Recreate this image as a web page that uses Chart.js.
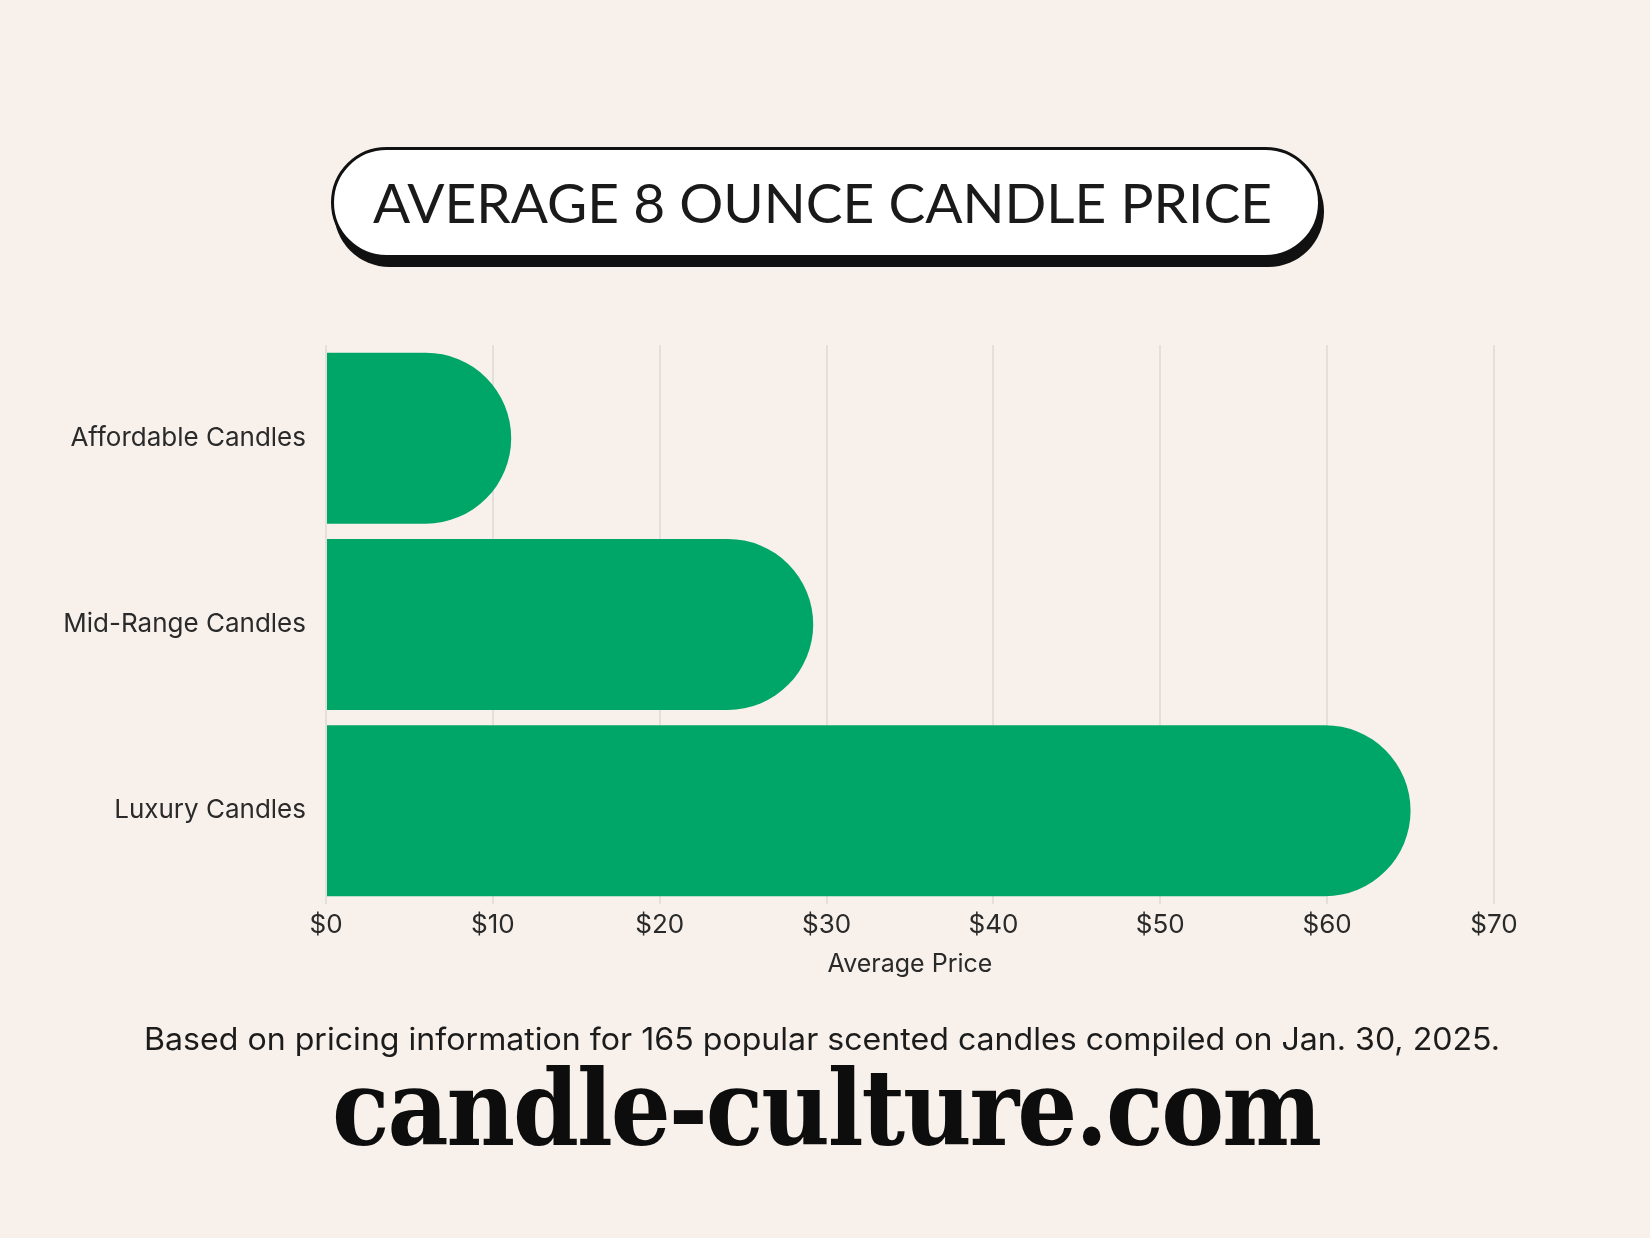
<!DOCTYPE html>
<html>
<head>
<meta charset="utf-8">
<script src="https://cdn.jsdelivr.net/npm/chart.js@4.4.1/dist/chart.umd.min.js"></script>
<style>
  html, body { margin:0; padding:0; background:#F8F1EB; }
  body { width:1650px; height:1238px; position:relative; overflow:hidden; }
  #wrap { position:absolute; left:0; top:0; width:1650px; height:1238px; }
  #pill { position:absolute; left:331px; top:147px; width:990px; height:111px; box-sizing:border-box;
          background:#fff; border:3px solid #111; border-radius:56px; box-shadow:3px 9px 0 #111; }
  .fit { position:absolute; white-space:nowrap; transform-origin:left center; line-height:1; display:inline-block; }
  #title { font-family:Lato, sans-serif; font-size:54px; font-weight:400; color:#1a1a1a; }
  #note { font-family:Inter, sans-serif; font-size:31px; color:#1c1c1c; }
  #logo { font-family:"DejaVu Serif", serif; font-weight:bold; font-stretch:condensed; font-size:104px; color:#0d0d0d; letter-spacing:-2px; }
</style>
</head>
<body>
<div id="wrap"><canvas id="c" width="1650" height="1238"></canvas></div>
<div id="pill"></div>
<div id="title" class="fit">AVERAGE 8 OUNCE CANDLE PRICE</div>
<div id="note" class="fit">Based on pricing information for 165 popular scented candles compiled on Jan. 30, 2025.</div>
<div id="logo" class="fit">candle-culture.com</div>
<script>
const categories = ["Affordable Candles", "Mid-Range Candles", "Luxury Candles"];
const avgPrice = [11.1, 29.2, 65.0];
const tickValues = [0, 10, 20, 30, 40, 50, 60, 70];
const axisTitle = "Average Price";

function fitText(id, left, right, centerY) {
  const el = document.getElementById(id);
  el.style.transform = "none";
  el.style.left = left + "px";
  const r = el.getBoundingClientRect();
  const s = (right - left) / r.width;
  el.style.top = (centerY - r.height / 2) + "px";
  el.style.transform = "scaleX(" + s + ")";
}
fitText("title", 373, 1272, 203);
fitText("note", 144, 1500, 1038);
fitText("logo", 332, 1320, 1109);

const GREEN = "#00A667";
const TXT = "#2a2a2a";
new Chart(document.getElementById("c"), {
  type: "bar",
  data: {
    labels: categories,
    datasets: [{
      data: avgPrice,
      backgroundColor: GREEN,
      borderWidth: 0,
      borderSkipped: false,
      borderRadius: { topLeft: 0, bottomLeft: 0, topRight: 200, bottomRight: 200 },
      barPercentage: 0.918,
      categoryPercentage: 1.0
    }]
  },
  options: {
    indexAxis: "y",
    responsive: false,
    animation: false,
    devicePixelRatio: 1,
    layout: { padding: { top: 345, bottom: 259, left: 0, right: 156 } },
    plugins: { legend: { display: false }, tooltip: { enabled: false }, title: { display: false } },
    scales: {
      x: {
        min: 0, max: 70,
        afterBuildTicks: (s) => { s.ticks = tickValues.map(v => ({ value: v })); },
        grid: { color: "#E4DFDA", lineWidth: 2, drawTicks: false },
        border: { display: false },
        ticks: { padding: 6, color: TXT, font: { family: "Inter", size: 26 },
                 callback: (v) => "$" + v },
        title: { display: true, text: axisTitle, color: TXT,
                 font: { family: "Inter", size: 25 }, padding: { top: 2, bottom: 0 } }
      },
      y: {
        grid: { display: false, drawTicks: false },
        border: { display: false },
        afterFit: (s) => { s.width = 326; },
        ticks: { padding: 20, color: TXT, font: { family: "Inter", size: 26 } }
      }
    }
  }
});
</script>
</body>
</html>
